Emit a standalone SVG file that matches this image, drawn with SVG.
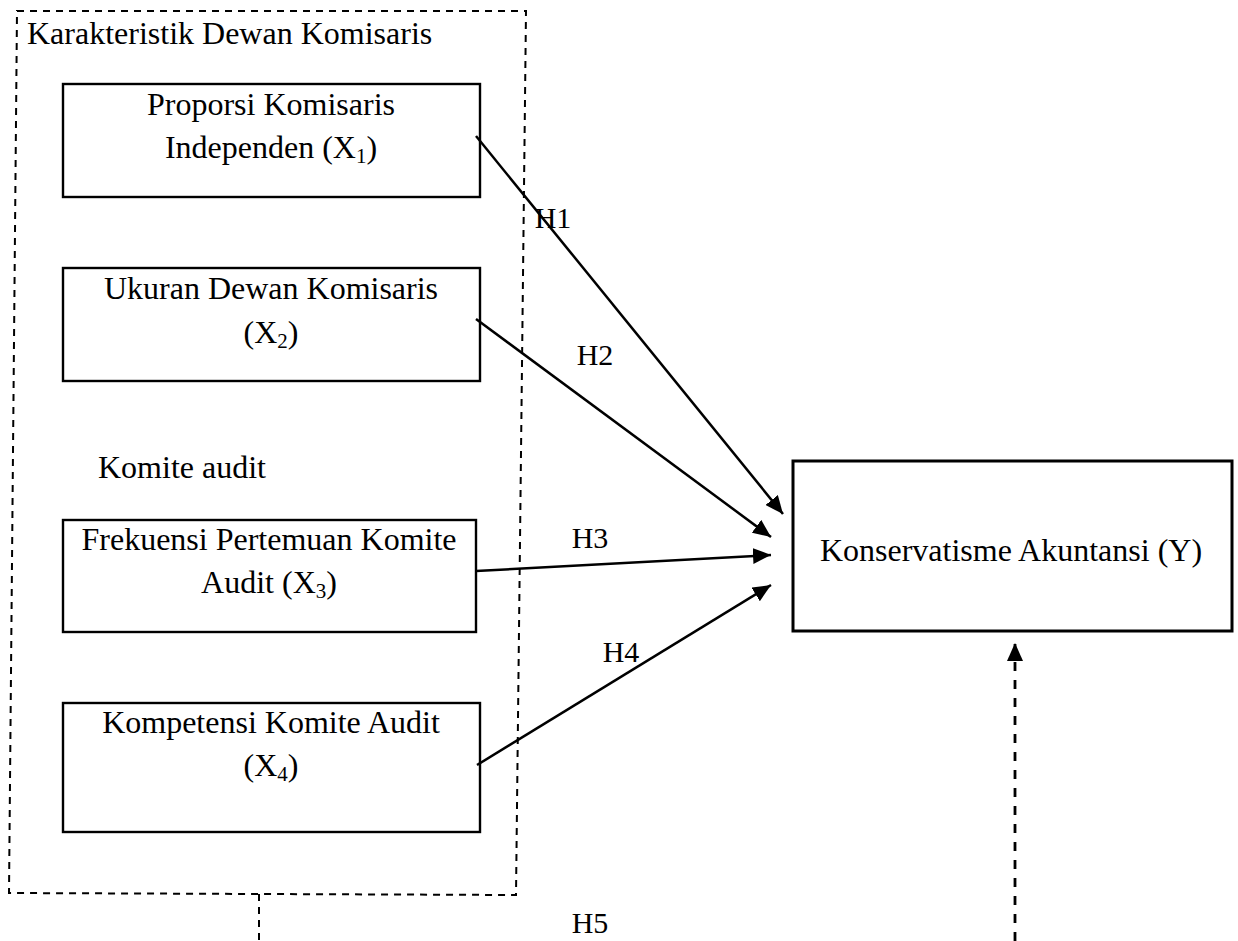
<svg xmlns="http://www.w3.org/2000/svg" width="1238" height="941" viewBox="0 0 1238 941">
<style>
  text { font-family: "Liberation Serif", "Times New Roman", serif; font-size: 32px; fill: #000; }
  .c { text-anchor: middle; }
  .h { font-size: 30px; }
  .box { fill: none; stroke: #000; stroke-width: 2.4; }
  .boxy { fill: none; stroke: #000; stroke-width: 3; }
  .dash { fill: none; stroke: #000; stroke-width: 2; stroke-dasharray: 7 6; }
  .arr { stroke: #000; stroke-width: 2.5; fill: none; marker-end: url(#ah); }
  .darr { stroke: #000; stroke-width: 2.8; fill: none; stroke-dasharray: 9 9; marker-end: url(#ah); }
</style>
<defs>
  <marker id="ah" markerUnits="userSpaceOnUse" markerWidth="20" markerHeight="16" refX="18" refY="8" orient="auto">
    <path d="M0,0 L18,8 L0,16 z" fill="#000"/>
  </marker>
</defs>
<rect width="1238" height="941" fill="#fff"/>

<g id="group-dewan">
  <polygon class="dash" points="17,11 526,11 516,895 9,893"/>
  <text x="27" y="44">Karakteristik Dewan Komisaris</text>
  <text x="98" y="478">Komite audit</text>
  <line class="dash" x1="259" y1="894" x2="259" y2="941"/>
</g>

<g id="x1">
  <rect class="box" x="63" y="84" width="417" height="113"/>
  <text class="c" x="271" y="115">Proporsi Komisaris</text>
  <text class="c" x="271" y="158">Independen (X<tspan font-size="21" dy="5">1</tspan><tspan dy="-5">)</tspan></text>
</g>

<g id="x2">
  <rect class="box" x="63" y="268" width="417" height="113"/>
  <text class="c" x="271" y="299">Ukuran Dewan Komisaris</text>
  <text class="c" x="271" y="343">(X<tspan font-size="21" dy="5">2</tspan><tspan dy="-5">)</tspan></text>
</g>

<g id="x3">
  <rect class="box" x="63" y="520" width="413" height="112"/>
  <text class="c" x="269" y="550">Frekuensi Pertemuan Komite</text>
  <text class="c" x="269" y="593">Audit (X<tspan font-size="21" dy="5">3</tspan><tspan dy="-5">)</tspan></text>
</g>

<g id="x4">
  <rect class="box" x="63" y="703" width="417" height="129"/>
  <text class="c" x="271" y="733">Kompetensi Komite Audit</text>
  <text class="c" x="271" y="776">(X<tspan font-size="21" dy="5">4</tspan><tspan dy="-5">)</tspan></text>
</g>

<g id="y">
  <rect class="boxy" x="793" y="461" width="439" height="170"/>
  <text class="c" x="1011" y="561">Konservatisme Akuntansi (Y)</text>
</g>

<g id="connectors">
  <line class="arr" x1="476" y1="136" x2="783" y2="514"/>
  <line class="arr" x1="476" y1="319" x2="771" y2="537"/>
  <line class="arr" x1="476" y1="571" x2="771" y2="555"/>
  <line class="arr" x1="477" y1="765" x2="771" y2="585"/>
  <line class="darr" x1="1015" y1="941" x2="1015" y2="643"/>
  <text class="c h" x="553" y="228">H1</text>
  <text class="c h" x="595" y="365">H2</text>
  <text class="c h" x="590" y="548">H3</text>
  <text class="c h" x="621" y="662">H4</text>
  <text class="c h" x="590" y="933">H5</text>
</g>
</svg>
